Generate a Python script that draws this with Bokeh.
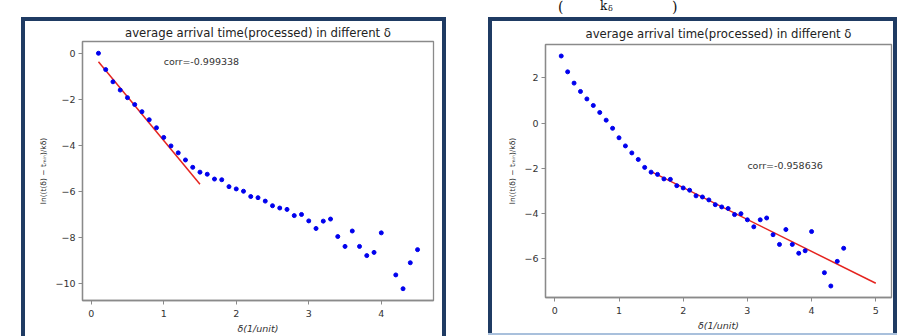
import numpy as np
from bokeh.plotting import figure
from bokeh.models import Range1d, FixedTicker, CustomJSTickFormatter, Label, Spacer, Div
from bokeh.layouts import row, column
from bokeh.embed import file_html
from bokeh.resources import INLINE

# delta samples (1/unit); there is no sample at 4.1
delta = [0.1, 0.2, 0.3, 0.4, 0.5, 0.6, 0.7, 0.8, 0.9, 1.0,
         1.1, 1.2, 1.3, 1.4, 1.5, 1.6, 1.7, 1.8, 1.9, 2.0,
         2.1, 2.2, 2.3, 2.4, 2.5, 2.6, 2.7, 2.8, 2.9, 3.0,
         3.1, 3.2, 3.3, 3.4, 3.5, 3.6, 3.7, 3.8, 3.9, 4.0,
         4.2, 4.3, 4.4, 4.5]

# ln((t(delta) - t_min) / k_delta), first processing
left_vals = [0.00, -0.71, -1.24, -1.60, -1.93, -2.23, -2.54, -2.89, -3.24, -3.66,
             -4.03, -4.33, -4.64, -4.96, -5.17, -5.26, -5.47, -5.50, -5.80, -5.90,
             -6.00, -6.23, -6.28, -6.43, -6.63, -6.73, -6.79, -7.06, -7.01, -7.29,
             -7.62, -7.30, -7.21, -7.97, -8.40, -7.73, -8.40, -8.80, -8.66, -7.81,
             -9.64, -10.24, -9.11, -8.54]

# second processing
right_vals = [2.97, 2.27, 1.77, 1.40, 1.07, 0.78, 0.47, 0.13, -0.23, -0.65,
              -1.01, -1.32, -1.61, -1.96, -2.17, -2.27, -2.47, -2.49, -2.77, -2.87,
              -2.97, -3.22, -3.27, -3.40, -3.61, -3.71, -3.78, -4.05, -4.01, -4.28,
              -4.59, -4.28, -4.20, -4.94, -5.37, -4.71, -5.37, -5.76, -5.65, -4.80,
              -6.62, -7.21, -6.12, -5.54]

# fitted lines
left_fit_x = [0.1, 1.5]
left_fit_y = [-0.37, -5.70]
right_fit_x = [1.5, 5.0]
right_fit_y = [-2.15, -7.09]

left_corr = "corr=-0.999338"
right_corr = "corr=-0.958636"
left_corr_at = (1.0, -0.36)
right_corr_at = (3.0, -1.87)

left_xticks = [0, 1, 2, 3, 4]
left_yticks = [0, -2, -4, -6, -8, -10]
right_xticks = [0, 1, 2, 3, 4, 5]
right_yticks = [2, 0, -2, -4, -6]

title_text = "average arrival time(processed) in different δ"
xlabel_text = "δ(1/unit)"
ylabel_text = "ln((t(δ) − tₘᵢₙ)/kδ)"

NAVY = "#1f3b63"
FRAME = "#8a8a8a"
TXT = "#333333"
FONT = "DejaVu Sans"


def padded(lo, hi, frac=0.05):
    pad = (hi - lo) * frac
    return lo - pad, hi + pad


def panel(xs, ys, fx, fy, corr, corr_at, xticks, yticks, w, h, borders, title_standoff):
    x0, x1 = padded(min(min(xs), min(fx)), max(max(xs), max(fx)))
    y0, y1 = padded(min(min(ys), min(fy)), max(max(ys), max(fy)))
    left, right, top, bottom = borders
    p = figure(width=w, height=h, output_backend="svg", toolbar_location=None,
               x_range=Range1d(x0, x1), y_range=Range1d(y0, y1),
               min_border_left=left, min_border_right=right,
               min_border_top=top, min_border_bottom=bottom)
    p.background_fill_color = "white"
    p.border_fill_color = "white"
    p.outline_line_color = FRAME
    p.outline_line_width = 1.3
    p.xgrid.visible = False
    p.ygrid.visible = False

    p.title.text = title_text
    p.title.align = "center"
    p.title.text_font = FONT
    p.title.text_font_size = "11.7px"
    p.title.text_font_style = "normal"
    p.title.text_color = "#222222"
    p.title.standoff = title_standoff

    fmt = CustomJSTickFormatter(code="return (tick < 0 ? '\\u2212' : '') + Math.abs(tick).toFixed(0);")
    for ax, ticks in ((p.xaxis[0], xticks), (p.yaxis[0], yticks)):
        ax.ticker = FixedTicker(ticks=ticks)
        ax.formatter = fmt
        ax.axis_line_color = FRAME
        ax.axis_line_width = 1.3
        ax.major_tick_line_color = FRAME
        ax.major_tick_out = 4
        ax.major_tick_in = 0
        ax.minor_tick_out = 0
        ax.minor_tick_in = 0
        ax.major_label_text_font = FONT
        ax.major_label_text_font_size = "9.5px"
        ax.major_label_text_color = TXT
        ax.major_label_standoff = 3
        ax.axis_label_text_font = FONT
        ax.axis_label_text_color = TXT
        ax.axis_label_standoff = 4

    p.xaxis.major_label_standoff = 5
    p.xaxis.axis_label_standoff = 3
    p.xaxis.axis_label = xlabel_text
    p.xaxis.axis_label_text_font_size = "9.5px"
    p.xaxis.axis_label_text_font_style = "italic"
    p.yaxis.axis_label = ylabel_text
    p.yaxis.axis_label_text_font_size = "7.5px"
    p.yaxis.axis_label_text_font_style = "normal"
    p.yaxis.axis_label_text_color = "#222222"

    p.line(fx, fy, color="#e5241f", line_width=1.5)
    p.scatter(xs, ys, size=4, color="#0000ee")
    p.add_layout(Label(x=corr_at[0], y=corr_at[1], text=corr, text_font=FONT,
                       text_font_size="9.5px", text_color=TXT, text_baseline="middle"))
    return p


left_fig = panel(delta, left_vals, left_fit_x, left_fit_y, left_corr, left_corr_at,
                 left_xticks, left_yticks, 417, 315, (57, 9, 18, 35), 4)
right_fig = panel(delta, right_vals, right_fit_x, right_fit_y, right_corr, right_corr_at,
                  right_xticks, right_yticks, 401, 312, (53, 2, 22, 33), 7)


def bar(w, h, color=NAVY):
    return Spacer(width=w, height=h, margin=0, styles={"background-color": color})


left_box = column(bar(425, 4), row(bar(4, 315), left_fig, bar(4, 315)))
right_box = column(bar(409, 4), row(bar(4, 312), right_fig, bar(4, 312)), bar(409, 2, "#a9c0dc"))

# lower edge of the equation that sits above the right panel
eq_html = (
    '<div style="position:relative;width:409px;height:17px;overflow:hidden;'
    'font-family:\'DejaVu Serif\';color:#111;">'
    '<span style="position:absolute;left:70px;top:0px;font-size:14px;line-height:15px;">(</span>'
    '<span style="position:absolute;left:112px;top:0px;font-size:12px;line-height:13px;">k</span>'
    '<span style="position:absolute;left:120px;top:4px;font-size:8px;line-height:9px;">δ</span>'
    '<span style="position:absolute;left:184px;top:0px;font-size:14px;line-height:15px;">)</span>'
    '</div>'
)
eq_div = Div(text=eq_html, width=409, height=17, margin=0, styles={"overflow": "hidden"})

layout = row(
    Spacer(width=21, height=336, margin=0),
    column(Spacer(width=425, height=17, margin=0), left_box),
    Spacer(width=42, height=336, margin=0),
    column(eq_div, right_box),
)

open("out.html", "w").write(file_html(layout, INLINE))
